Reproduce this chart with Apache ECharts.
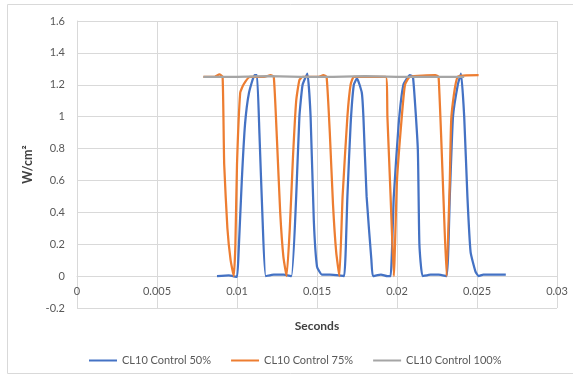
<!DOCTYPE html>
<html><head><meta charset="utf-8">
<script src="https://cdn.jsdelivr.net/npm/echarts@6/dist/echarts.min.js"></script>
<style>html,body{margin:0;padding:0;background:#fff}#c{width:573px;height:377px}</style>
</head><body><div id="c"></div>
<script>
var seriesNames = ['CL10 Control 50%', 'CL10 Control 75%', 'CL10 Control 100%'];
var xTicks = [0, 0.005, 0.01, 0.015, 0.02, 0.025, 0.03];
var yTicks = [-0.2, 0, 0.2, 0.4, 0.6, 0.8, 1, 1.2, 1.4, 1.6];

var x50 = [0.00875,0.0095,0.00975,0.01,0.0101,0.0103,0.0105,0.01075,0.0111,0.01125,0.0114,0.0116,0.0118,0.0123,0.0129,0.0134,0.0137,0.0139,0.0141,0.0144,0.0146,0.0148,0.015,0.0153,0.0158,0.0164,0.0167,0.0169,0.0171,0.0173,0.0175,0.0178,0.0179,0.0181,0.0184,0.0185,0.019,0.0194,0.0196,0.0198,0.0201,0.0204,0.0208,0.021,0.0213,0.0214,0.0216,0.0221,0.0226,0.0231,0.0233,0.0235,0.0238,0.024,0.0242,0.0244,0.0246,0.0249,0.0251,0.0254,0.0268];
var y50 = [0.0,0.005,0.0,-0.005,0.15,0.6,0.95,1.15,1.26,1.26,0.9,0.35,0.0,0.01,0.01,0.0,0.5,1.0,1.2,1.27,1.0,0.35,0.06,0.01,0.01,0.005,0.0,0.5,0.95,1.2,1.24,1.15,1.0,0.5,0.1,0.0,0.01,0.0,0.0,0.5,0.95,1.2,1.26,1.25,0.8,0.2,0.0,0.01,0.01,0.0,0.5,1.0,1.2,1.27,1.0,0.5,0.15,0.03,0.0,0.01,0.01];

var x75 = [0.0079,0.0086,0.0089,0.0091,0.0092,0.0094,0.0096,0.0098,0.0099,0.01,0.0102,0.0104,0.0108,0.0117,0.0121,0.0123,0.0125,0.0127,0.0129,0.0131,0.0133,0.0135,0.0137,0.0139,0.0141,0.0151,0.0154,0.0156,0.0158,0.016,0.0162,0.0164,0.0166,0.0169,0.0171,0.0173,0.0193,0.0194,0.0196,0.0198,0.02,0.0203,0.0205,0.0208,0.0224,0.0226,0.0229,0.0231,0.0233,0.0234,0.0238,0.0251];
var y75 = [1.25,1.25,1.265,1.25,0.7,0.3,0.1,0.0,0.2,0.7,1.15,1.2,1.25,1.25,1.26,1.25,0.85,0.4,0.12,0.0,0.3,0.75,1.1,1.23,1.25,1.25,1.26,1.25,0.9,0.45,0.15,0.0,0.5,1.0,1.2,1.25,1.25,1.0,0.5,0.0,0.6,1.0,1.2,1.25,1.26,1.25,0.5,0.0,0.6,1.0,1.25,1.26];

var x100 = [0.0079,0.01,0.012,0.014,0.016,0.018,0.02,0.022,0.0242];
var y100 = [1.25,1.25,1.255,1.25,1.25,1.255,1.25,1.25,1.25];

function pairs(xs, ys){ return xs.map(function(v,i){ return [v, ys[i]]; }); }

var colors = ['#4472C4', '#ED7D31', '#A5A5A5'];
var font = 'Lato, "Open Sans", sans-serif';
var chart = echarts.init(document.getElementById('c'), null, {renderer:'canvas'});
chart.setOption({
  animation: false,
  color: colors,
  textStyle: {fontFamily: font},
  graphic: [{type:'rect', shape:{x:7.5, y:4.5, width:570, height:369}, style:{fill:'none', stroke:'#D9D9D9', lineWidth:1}, silent:true, z:-10}],
  grid: {left:77, right:16, top:21, bottom:69},
  legend: {
    top: 350, left: 84, itemWidth: 28, itemHeight: 10, itemGap: 20,
    icon: 'path://M0,4 L28,4 L28,6 L0,6 Z',
    textStyle: {color:'#595959', fontSize:11, fontFamily: font},
    data: seriesNames
  },
  xAxis: {
    type:'value', min:xTicks[0], max:xTicks[xTicks.length-1], interval:0.005,
    position:'bottom', offset:-32,
    name:'Seconds', nameLocation:'middle', nameGap:44,
    nameTextStyle:{fontWeight:'bold', color:'#404040', fontSize:12, fontFamily: font},
    axisLine:{onZero:false, lineStyle:{color:'#D9D9D9'}},
    axisTick:{show:false},
    axisLabel:{color:'#595959', fontSize:11, margin:10, formatter:function(v){return String(+v.toFixed(3));}},
    splitLine:{show:true, lineStyle:{color:'#D9D9D9'}}
  },
  yAxis: {
    type:'value', min:yTicks[0], max:yTicks[yTicks.length-1], interval:0.2,
    name:'W/cm²', nameLocation:'middle', nameGap:29,
    nameTextStyle:{fontWeight:'bold', color:'#404040', fontSize:12.5, fontFamily: font},
    axisLine:{show:true, onZero:false, lineStyle:{color:'#D9D9D9'}},
    axisTick:{show:false},
    axisLabel:{color:'#595959', fontSize:11, margin:12, formatter:function(v){return String(+v.toFixed(1));}},
    splitLine:{show:true, lineStyle:{color:'#D9D9D9'}}
  },
  series: [
    {name:seriesNames[0], type:'line', data:pairs(x50,y50), symbol:'none', smooth:0.15, lineStyle:{width:2.25}},
    {name:seriesNames[1], type:'line', data:pairs(x75,y75), symbol:'none', smooth:0.15, lineStyle:{width:2.25}},
    {name:seriesNames[2], type:'line', data:pairs(x100,y100), symbol:'none', smooth:false, lineStyle:{width:2.25}}
  ]
});
</script></body></html>
